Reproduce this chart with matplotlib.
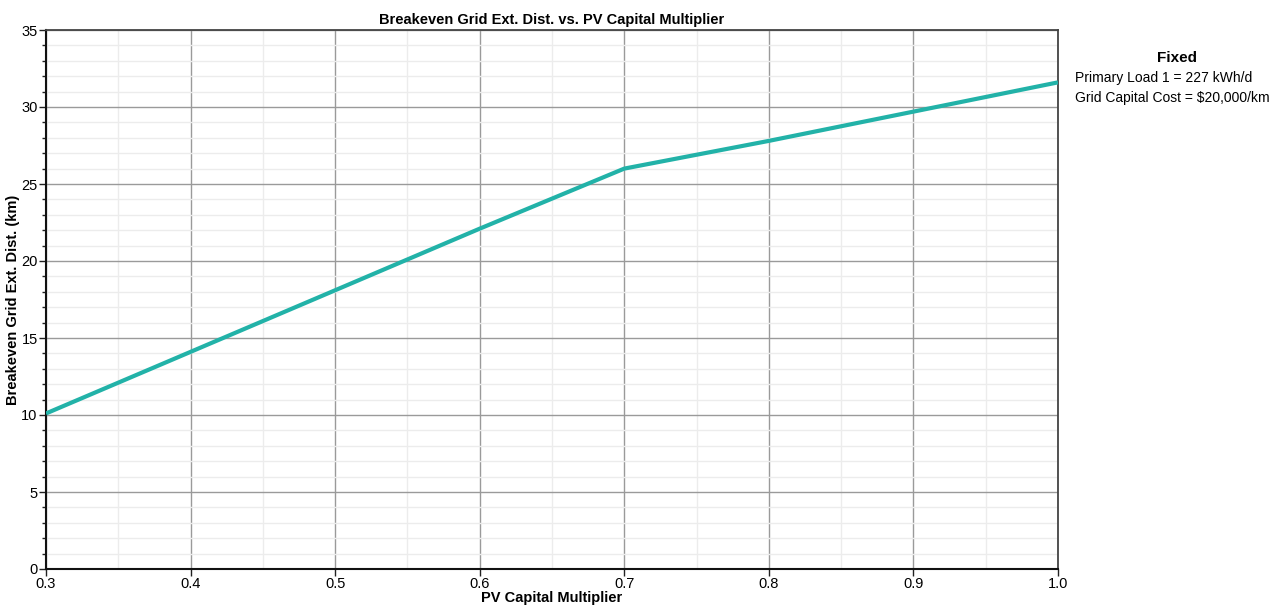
import matplotlib
matplotlib.use("Agg")
import matplotlib.pyplot as plt
from matplotlib.ticker import MultipleLocator, FormatStrFormatter

# Breakeven grid extension distance for each PV capital multiplier
pv_multiplier = [0.3, 0.4, 0.5, 0.6, 0.7, 0.8, 0.9, 1.0]
breakeven_km = [10.1, 14.1, 18.1, 22.1, 26.0, 27.8, 29.7, 31.6]

fixed_title = "Fixed"
fixed_lines = ["Primary Load 1 = 227 kWh/d", "Grid Capital Cost = $20,000/km"]

plt.rcParams["font.family"] = ["Liberation Sans", "DejaVu Sans"]

fig = plt.figure(figsize=(12.84, 6.07), dpi=100)
ax = fig.add_axes([46 / 1284, 1 - 569 / 607, (1058 - 46) / 1284, (569 - 30) / 607])

ax.plot(pv_multiplier, breakeven_km, color="#22b2a8", lw=3.0, solid_capstyle="butt", zorder=3)

ax.set_xlim(0.3, 1.0)
ax.set_ylim(0, 35)
ax.xaxis.set_major_locator(MultipleLocator(0.1))
ax.xaxis.set_minor_locator(MultipleLocator(0.05))
ax.yaxis.set_major_locator(MultipleLocator(5))
ax.yaxis.set_minor_locator(MultipleLocator(1))
ax.xaxis.set_major_formatter(FormatStrFormatter("%.1f"))

ax.grid(which="major", color="#9a9a9a", lw=1.0, zorder=1)
ax.grid(which="minor", color="#ececec", lw=1.0, zorder=0)
ax.set_axisbelow(True)

ax.tick_params(axis="both", which="major", direction="out", length=5, width=1,
               labelsize=10.5, color="#222222", pad=1)
ax.tick_params(axis="y", which="minor", direction="out", length=3, width=1, color="#222222")
ax.tick_params(axis="x", which="minor", length=0)

for side in ("left", "bottom"):
    ax.spines[side].set_color("#111111")
    ax.spines[side].set_linewidth(1.5)
for side in ("top", "right"):
    ax.spines[side].set_color("#444444")
    ax.spines[side].set_linewidth(1.3)

ax.set_title("Breakeven Grid Ext. Dist. vs. PV Capital Multiplier",
             fontsize=10.5, fontweight="bold", pad=4)
ax.set_xlabel("PV Capital Multiplier", fontsize=10.5, fontweight="bold", labelpad=0)
ax.set_ylabel("Breakeven Grid Ext. Dist. (km)", fontsize=10.5, fontweight="bold")
ax.yaxis.set_label_coords(-26 / 1012, 0.5)

fig.text(1177 / 1284, 1 - 58 / 607, fixed_title, ha="center", va="center",
         fontsize=11, fontweight="bold")
for i, line in enumerate(fixed_lines):
    fig.text(1075 / 1284, 1 - (78 + 20 * i) / 607, line, ha="left", va="center",
             fontsize=10)

fig.savefig("out.png", dpi=100, facecolor="white")
